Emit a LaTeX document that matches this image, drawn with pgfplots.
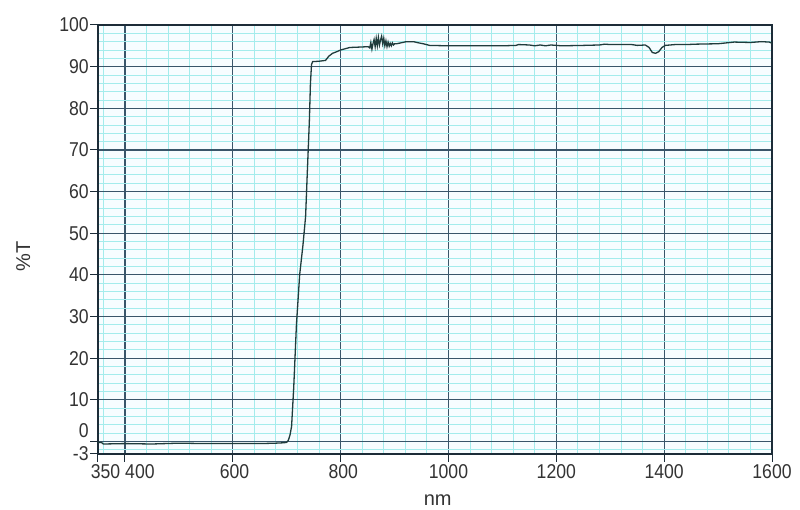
\documentclass[border=0pt]{standalone}
\usepackage{pgfplots}
\pgfplotsset{compat=1.18}
\usepackage{fontspec}
\setmainfont{Liberation Sans}
\definecolor{curve}{HTML}{203C3C}
\definecolor{majgrid}{HTML}{3A566A}
\definecolor{mingrid}{HTML}{A4ECEC}
\definecolor{axline}{HTML}{1C2C38}
\begin{document}
\begin{tikzpicture}
\useasboundingbox (-98pt,-56pt) rectangle (702pt,454pt);
\begin{axis}[
  scale only axis,
  width=674pt, height=429pt,
  xmin=350, xmax=1600,
  ymin=-3, ymax=100,
  xtick={350,400,600,800,1000,1200,1400,1600},
  xticklabels={\makebox[0pt]{\hspace{17pt}350},\makebox[0pt]{\hspace{34pt}400},
    \makebox[0pt]{\hspace{4pt}600},\makebox[0pt]{\hspace{6pt}800},1000,1200,1400,1600},
  ytick={-3,0,10,20,30,40,50,60,70,80,90,100},
  yticklabels={-3,\raisebox{11pt}[\height][\depth]{0},10,20,30,40,50,60,70,80,90,100},
  minor xtick={360,440,480,520,560,640,680,720,760,840,880,920,960,1040,1080,1120,1160,1240,1280,1320,1360,1440,1480,1520,1560},
  minor ytick={-2,2,4,6,8,12,14,16,18,22,24,26,28,32,34,36,38,42,44,46,48,52,54,56,58,62,64,66,68,72,74,76,78,82,84,86,88,92,94,96,98},
  grid=both,
  major grid style={majgrid, line width=1.2pt},
  minor grid style={mingrid, line width=0.9pt},
  axis background/.style={fill=cyan!3},
  axis line style={axline, line width=1.3pt},
  tick align=outside,
  xtick pos=bottom, ytick pos=left,
  major tick length=8pt,
  minor tick length=0pt,
  tick style={axline, line width=1pt},
  font=\fontsize{20}{24}\selectfont,
  tick label style={font=\fontsize{20}{24}\selectfont, xscale=0.88, text=black!80},
  xticklabel style={yshift=1pt},
  yticklabel style={xshift=2pt},
  xlabel={nm}, ylabel={\%T},
  every axis x label/.style={at={(axis description cs:0.504,-0.107)}, anchor=center, font=\fontsize{20}{24}\selectfont, text=black!80},
  every axis y label/.style={at={(axis description cs:-0.111,0.46)}, rotate=90, anchor=center, font=\fontsize{20}{24}\selectfont, text=black!80},
]
\addplot[curve, line width=1.3pt] coordinates {
(350,-0.3) (356,-0.2) (360,-0.6) (400,-0.5) (450,-0.6) (500,-0.4) (550,-0.5)
(600,-0.5) (650,-0.5) (680,-0.4) (695,-0.3) (700,-0.2)
(703,0.3) (706,1.5) (709,3.6) (713,13) (718,28) (724,40) (730,47)
(735,54) (738,64) (742,77) (744,86) (746,90.5) (748,91.2) (760,91.3)
(772,91.5) (778,92.5) (785,93.2) (793,93.6) (800,94.0) (817,94.6)
(836,94.7) (851,94.8)
(854,94.5) (856,95.8) (858,94.2) (860,95.5) (862,96.5) (864,94.8)
(866,96.8) (868,95.0) (870,97.0) (872,95.2) (874,96.4) (876,97.3)
(878,95.5) (880,96.8) (882,95.0) (884,96.2) (886,94.8) (888,95.9)
(890,94.9) (892,95.6) (894,95.0) (896,95.7) (898,95.2) (900,95.5)
(904,95.5) (915,95.8) (922,96.0) (935,96.0) (945,95.7) (953,95.5)
(965,95.1) (1000,95.0) (1050,95.0) (1100,95.0) (1125,95.1) (1130,95.3)
(1150,95.2) (1160,95.0) (1170,95.2) (1180,95.0) (1190,95.2) (1200,95.1)
(1210,95.0) (1250,95.1) (1280,95.2) (1290,95.4) (1300,95.3) (1340,95.3)
(1350,95.1) (1365,95.2) (1372,94.6) (1378,93.4) (1384,93.2) (1390,93.6)
(1396,94.6) (1402,95.1) (1420,95.3) (1440,95.3) (1460,95.4) (1500,95.5)
(1530,95.9) (1560,95.8) (1580,96.0) (1595,95.9) (1600,95.6)
};
\end{axis}
\end{tikzpicture}
\end{document}
